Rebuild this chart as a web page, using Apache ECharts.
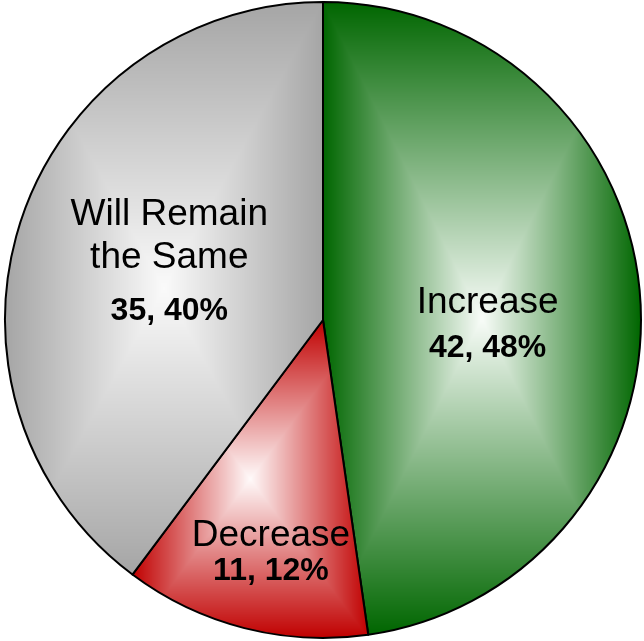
<!DOCTYPE html>
<html>
<head>
<meta charset="utf-8">
<script src="https://cdn.jsdelivr.net/npm/echarts@6/dist/echarts.min.js"></script>
<style>
html,body{margin:0;padding:0;background:#fff;}
#chart{width:644px;height:641px;}
</style>
</head>
<body>
<div id="chart"></div>
<script>
// ---- data ----
const categories = ['Increase', 'Decrease', 'Will Remain the Same'];
const labelLines = [['Increase'], ['Decrease'], ['Will Remain', 'the Same']];
const values = [42, 11, 35];

// ---- style ----
const edgeColors = [[0, 102, 0], [192, 0, 0], [165, 165, 165]];
const centerColors = [[248, 252, 248], [255, 250, 250], [250, 250, 250]];
const valueLineHeights = [48, 28, 63];
const labelShift = [[3, 18], [-12, 73], [0, -1]];

const W = 644, H = 641;
const CX = 323, CY = 320, R = 318;

function pt(a) {
  const t = a * Math.PI / 180;
  return [CX + R * Math.sin(t), CY - R * Math.cos(t)];
}
function sectorBBox(a0, a1) {
  const pts = [[CX, CY], pt(a0), pt(a1)];
  [0, 90, 180, 270, 360].forEach(k => { if (k > a0 && k < a1) pts.push(pt(k)); });
  const xs = pts.map(p => p[0]), ys = pts.map(p => p[1]);
  return [Math.min(...xs), Math.min(...ys), Math.max(...xs), Math.max(...ys)];
}
function rectGradientCanvas(bb, cIn, cOut) {
  const cv = document.createElement('canvas');
  cv.width = W; cv.height = H;
  const ctx = cv.getContext('2d');
  const img = ctx.createImageData(W, H);
  const mx = (bb[0] + bb[2]) / 2, my = (bb[1] + bb[3]) / 2;
  const hw = Math.max(1, (bb[2] - bb[0]) / 2), hh = Math.max(1, (bb[3] - bb[1]) / 2);
  for (let y = 0; y < H; y++) {
    for (let x = 0; x < W; x++) {
      let t = Math.max(Math.abs(x + 0.5 - mx) / hw, Math.abs(y + 0.5 - my) / hh);
      if (t > 1) t = 1;
      const i = (y * W + x) * 4;
      img.data[i] = Math.round(cIn[0] + (cOut[0] - cIn[0]) * t);
      img.data[i + 1] = Math.round(cIn[1] + (cOut[1] - cIn[1]) * t);
      img.data[i + 2] = Math.round(cIn[2] + (cOut[2] - cIn[2]) * t);
      img.data[i + 3] = 255;
    }
  }
  ctx.putImageData(img, 0, 0);
  return cv;
}

const total = values.reduce((a, b) => a + b, 0);
let acc = 0;
const seriesData = values.map((v, i) => {
  const a0 = acc / total * 360;
  acc += v;
  const a1 = acc / total * 360;
  const bb = sectorBBox(a0, a1);
  return {
    name: categories[i],
    value: v,
    itemStyle: { color: { image: rectGradientCanvas(bb, centerColors[i], edgeColors[i]), repeat: 'no-repeat' } },
    label: {
      show: true,
      position: 'inner',
      formatter: p => labelLines[i].map(s => '{n|' + s + '}').join('\n') + '\n{v|' + p.value + ', ' + p.percent + '%}',
      rich: {
        n: { fontFamily: 'Liberation Sans, Arial, sans-serif', fontSize: 37, lineHeight: 43, color: '#000' },
        v: { fontFamily: 'Liberation Sans, Arial, sans-serif', fontSize: 32, fontWeight: 'bold', lineHeight: valueLineHeights[i], color: '#000' }
      }
    }
  };
});

const chart = echarts.init(document.getElementById('chart'), null, { renderer: 'canvas' });
chart.setOption({
  animation: false,
  backgroundColor: '#fff',
  series: [{
    type: 'pie',
    center: [CX, CY],
    radius: R,
    startAngle: 90,
    clockwise: true,
    percentPrecision: 0,
    avoidLabelOverlap: false,
    itemStyle: { borderColor: '#000', borderWidth: 2 },
    emphasis: { disabled: true },
    labelLine: { show: false },
    labelLayout: p => ({ dx: labelShift[p.dataIndex][0], dy: labelShift[p.dataIndex][1] }),
    data: seriesData
  }]
});
</script>
</body>
</html>
